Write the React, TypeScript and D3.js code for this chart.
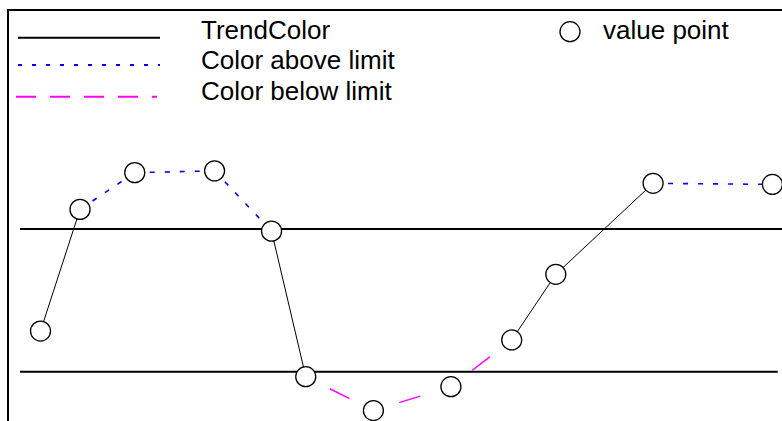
import React from "react";
import * as d3 from "d3";

// time positions (0..100) and measured values of the trend points
const times = [2.7, 7.9, 15.1, 25.6, 33.1, 37.6, 46.5, 56.7, 64.7, 70.5, 83.3, 99.0];
const values = [41.4, 75.5, 85.8, 86.3, 69.4, 28.6, 19.1, 25.8, 38.9, 57.3, 82.8, 82.5];

const UPPER = 70;
const LOWER = 30;
// limit line extents on the time axis
const upperSpan = [0, 103];
const lowerSpan = [0, 99.7];

const legendLabels = ["TrendColor", "Color above limit", "Color below limit"];
const pointLabel = "value point";

const W = 782;
const H = 421;
const FONT = "'Liberation Sans', Arial, Helvetica, sans-serif";

const STYLES = {
  normal: { stroke: "#000", width: 1, dash: null, offset: 0 },
  above: { stroke: "#0000ff", width: 1.6, dash: "5,10", offset: 0 },
  below: { stroke: "#ff00ff", width: 1.5, dash: "22,35", offset: 30 },
};

function zoneOf(v: number) {
  if (v > UPPER) return "above";
  if (v < LOWER) return "below";
  return "normal";
}

export default function App() {
  const x = d3.scaleLinear().domain([0, 100]).range([20, 780]);
  const y = d3.scaleLinear().domain([LOWER, UPPER]).range([371.7, 229]);

  const pts = times.map((t, i) => ({ t, v: values[i] }));
  const segs = d3.pairs(pts);

  const legendY = [37.7, 65, 96.7];
  const legendKeys = ["normal", "above", "below"];
  const legendDash = [null, "4,10", "20,14"];

  return (
    <svg
      width={W}
      height={H}
      style={{ position: "fixed", left: 0, top: 0, display: "block" }}
    >
      <rect x={8} y={10} width={900} height={600} fill="#fff" stroke="#000" strokeWidth={2} />

      {/* legend */}
      {legendKeys.map((k, i) => {
        const s = STYLES[k];
        return (
          <g key={k}>
            <line
              x1={i === 2 ? 16 : 18}
              x2={i === 2 ? 157 : 160}
              y1={legendY[i]}
              y2={legendY[i]}
              stroke={s.stroke}
              strokeWidth={2}
              strokeDasharray={legendDash[i] ?? undefined}
            />
            <text x={201} y={38.5 + i * 30.8} fontFamily={FONT} fontSize={26} fill="#000">
              {legendLabels[i]}
            </text>
          </g>
        );
      })}
      <circle cx={570} cy={31.7} r={10} fill="#fff" stroke="#000" strokeWidth={1.3} />
      <text x={603} y={38.5} fontFamily={FONT} fontSize={26} fill="#000">
        {pointLabel}
      </text>

      {/* limit lines */}
      <line x1={x(upperSpan[0])} x2={x(upperSpan[1])} y1={y(UPPER)} y2={y(UPPER)} stroke="#000" strokeWidth={2} />
      <line x1={x(lowerSpan[0])} x2={x(lowerSpan[1])} y1={y(LOWER)} y2={y(LOWER)} stroke="#000" strokeWidth={2} />

      {/* trend segments, styled by the zone of their start point */}
      {segs.map(([a, b], i) => {
        const s = STYLES[zoneOf(a.v)];
        return (
          <line
            key={i}
            x1={x(a.t)}
            y1={y(a.v)}
            x2={x(b.t)}
            y2={y(b.v)}
            stroke={s.stroke}
            strokeWidth={s.width}
            strokeDasharray={s.dash ?? undefined}
            strokeDashoffset={s.offset}
          />
        );
      })}

      {/* value points */}
      {pts.map((p, i) => (
        <circle key={i} cx={x(p.t)} cy={y(p.v)} r={10} fill="#fff" stroke="#000" strokeWidth={1.3} />
      ))}
    </svg>
  );
}
